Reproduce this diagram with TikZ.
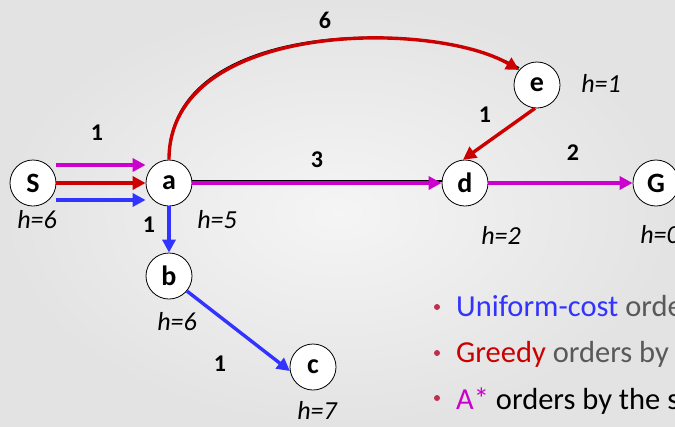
\documentclass[tikz,border=0pt]{standalone}
\usepackage{fontspec}
\setmainfont{Carlito}
\usetikzlibrary{arrows.meta}
\definecolor{ucsblue}{HTML}{3333FF}
\definecolor{greedyred}{HTML}{CC0000}
\definecolor{astarpink}{HTML}{CC00CC}
\definecolor{bulletred}{HTML}{C0304D}
\definecolor{textgrey}{HTML}{595959}
\tikzset{
  state/.style={circle,draw=black,line width=0.8pt,fill=white,minimum size=46pt,inner sep=0pt,font=\fontsize{28}{30}\selectfont\bfseries},
  cost/.style={font=\fontsize{24}{26}\selectfont\bfseries},
  heur/.style={font=\fontsize{26}{28}\selectfont\itshape},
  arc/.style={line width=3.4pt,-{Triangle[length=13pt,width=13pt]}},
  shadowed/.style={preaction={draw=black,line width=1.6pt,-,transform canvas={yshift=2pt}}},
  dot/.style={circle,fill=bulletred,inner sep=0pt,minimum size=6pt},
  bullettext/.style={anchor=base west,inner sep=0pt,font=\fontsize{30.5}{32}\selectfont},
}
\begin{document}
\begin{tikzpicture}[x=1pt,y=-1pt]
\useasboundingbox (0,0) rectangle (675,426);
\clip (0,0) rectangle (675,426);
\shade[inner color=black!4,outer color=black!11] (0,0) rectangle (675,426);

\node[state] (S) at (33,183) {S};
\node[state] (a) at (169,183) {a};
\node[state] (b) at (169,276) {b};
\node[state] (c) at (313,367) {c};
\node[state] (d) at (465,183) {d};
\node[state] (e) at (537,85) {e};
\node[state] (G) at (656,183) {G};

% S to a, one arrow for each search
\coordinate (s1) at ([yshift=18pt]S.east);
\coordinate (s3) at ([yshift=-17pt]S.east);
\draw[arc,astarpink] (s1) -- (s1 -| a.west);
\draw[arc,greedyred] (S) -- (a);
\draw[arc,ucsblue] (s3) -- (s3 -| a.west);

\draw[arc,ucsblue] (a) -- (b);
\draw[arc,ucsblue] (b.-40) -- (c.190);
\draw[arc,astarpink,shadowed] (a) -- (d);
\draw[arc,greedyred,shadowed] (a.north) .. controls +(0,-140) and +(-85,-50) .. (e.140);
\draw[arc,greedyred] (e.-95) -- (d.95);
\draw[arc,astarpink] (d) -- (G);

\foreach \n/\x/\y/\t in {sa/97/133/1, ab/149/225/1, ad/317/160/3, ae/325/20/6, ed/485/115/1, dg/573/153/2, bc/220/364/1}
{
	\node[cost] (w\n) at (\x,\y) {\t};
}
\foreach \n/\x/\y/\v in {S/37/220/6, a/217/220/5, b/177/322/6, c/317/410/7, d/501/235/2, e/601/83/1, G/660/235/0}
{
	\node[heur] (h\n) at (\x,\y) {h=\v};
}

\foreach \i/\y in {1/307,2/353,3/398}
{
	\node[dot] (p\i) at (437,\y) {};
}
\node[bullettext] (l1) at (456,316) {\textcolor{ucsblue}{Uniform-cost} \textcolor{textgrey}{orde}};
\node[bullettext] (l2) at (456,362) {\textcolor{greedyred}{Greedy} \textcolor{textgrey}{orders by}};
\node[bullettext] (l3) at (456,409) {\textcolor{astarpink}{A*} orders by the s};
\end{tikzpicture}
\end{document}
